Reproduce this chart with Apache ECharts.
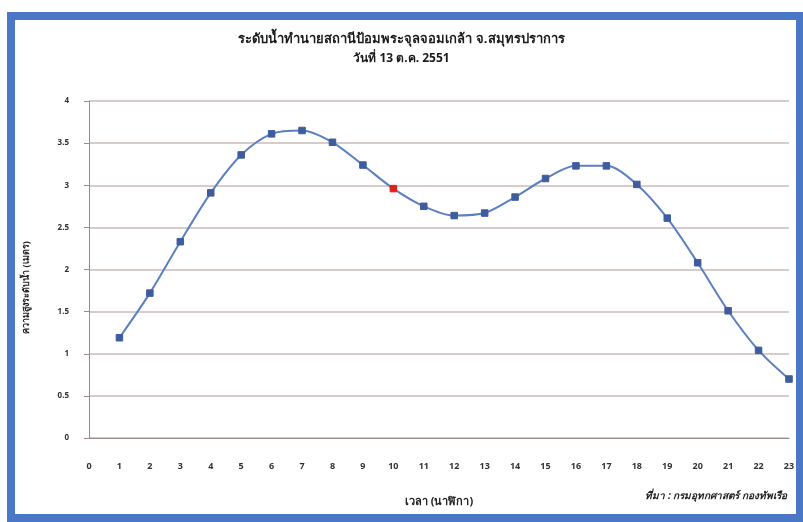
<!DOCTYPE html>
<html>
<head>
<meta charset="utf-8">
<script src="https://cdn.jsdelivr.net/npm/echarts@6/dist/echarts.min.js"></script>
<style>
  html, body { margin: 0; padding: 0; background: #ffffff; }
  #chart { width: 803px; height: 522px; }
</style>
</head>
<body>
<div id="chart"></div>
<script>
// Predicted tide level by hour
const hours = [1, 2, 3, 4, 5, 6, 7, 8, 9, 10, 11, 12, 13, 14, 15, 16, 17, 18, 19, 20, 21, 22, 23];
const levels = [1.19, 1.72, 2.33, 2.91, 3.36, 3.61, 3.65, 3.51, 3.24, 2.96, 2.75, 2.64, 2.67, 2.86, 3.08, 3.23, 3.23, 3.01, 2.61, 2.08, 1.51, 1.04, 0.70];
const highlightHour = 10;

const titleText = 'ระดับน้ำทำนายสถานีป้อมพระจุลจอมเกล้า จ.สมุทรปราการ';
const subtitleText = 'วันที่ 13 ต.ค. 2551';
const xName = 'เวลา (นาฬิกา)';
const yName = 'ความสูงระดับน้ำ (เมตร)';
const sourceText = 'ที่มา : กรมอุทกศาสตร์ กองทัพเรือ';

const fontFamily = 'Tahoma, "Noto Sans", "DejaVu Sans", sans-serif';

const seriesData = hours.map((h, i) => {
  const item = { value: [h, levels[i]] };
  if (h === highlightHour) {
    item.itemStyle = { color: '#e0201c', borderColor: '#e0201c' };
  }
  return item;
});

const chart = echarts.init(document.getElementById('chart'), null, { renderer: 'canvas' });
chart.setOption({
  backgroundColor: '#ffffff',
  animation: false,
  textStyle: { fontFamily: fontFamily },
  title: {
    text: titleText,
    subtext: subtitleText,
    left: 'center',
    top: 28,
    itemGap: 7,
    textStyle: { fontSize: 13, fontWeight: 'bold', color: '#1a1a1a', fontFamily: fontFamily },
    subtextStyle: { fontSize: 12, fontWeight: 'bold', color: '#1a1a1a', fontFamily: fontFamily }
  },
  grid: { left: 89, right: 14, top: 101, bottom: 84, containLabel: false },
  xAxis: {
    type: 'value',
    min: 0,
    max: 23,
    interval: 1,
    name: xName,
    nameLocation: 'middle',
    nameGap: 58,
    nameTextStyle: { fontSize: 11, fontWeight: 'bold', color: '#222' },
    axisLine: { show: true, lineStyle: { color: '#9a8c88', width: 1 } },
    axisTick: { show: false },
    splitLine: { show: false },
    axisLabel: { margin: 24, fontSize: 9, fontWeight: 'bold', color: '#333' }
  },
  yAxis: {
    type: 'value',
    min: 0,
    max: 4,
    interval: 0.5,
    name: yName,
    nameLocation: 'middle',
    nameGap: 58,
    nameRotate: 90,
    nameTextStyle: { fontSize: 9, fontWeight: 'bold', color: '#222', padding: [0, 0, 0, -36] },
    axisLine: { show: true, lineStyle: { color: '#9a8c88', width: 1 } },
    axisTick: { show: true, length: 5, inside: false, lineStyle: { color: '#9a8c88' } },
    splitLine: { show: true, lineStyle: { color: '#c9bbb7', width: 1.5 } },
    axisLabel: { margin: 20, fontSize: 8, fontWeight: 'bold', color: '#333' }
  },
  series: [{
    type: 'line',
    data: seriesData,
    smooth: 0.3,
    symbol: 'rect',
    symbolSize: 6.5,
    lineStyle: { color: '#5b7fc2', width: 2 },
    itemStyle: { color: '#3e5c9e', borderColor: '#3e5c9e' }
  }],
  graphic: [
    {
      type: 'rect',
      shape: { x: 11, y: 16, width: 789, height: 502 },
      style: { fill: 'none', stroke: '#4a78c6', lineWidth: 8 },
      silent: true
    },
    {
      type: 'text',
      right: 16,
      top: 491,
      style: {
        text: sourceText,
        fill: '#222',
        font: 'italic bold 10px ' + fontFamily
      }
    }
  ]
});
</script>
</body>
</html>
